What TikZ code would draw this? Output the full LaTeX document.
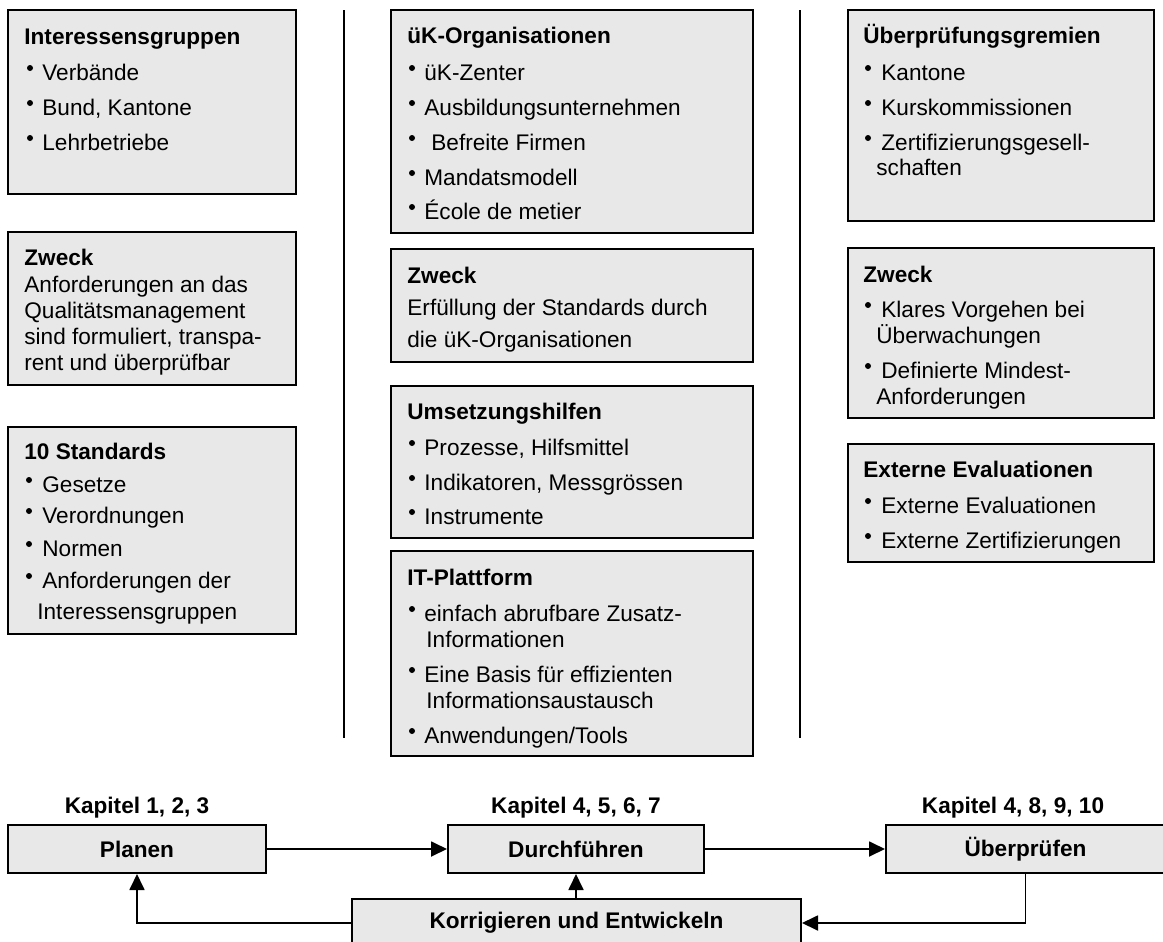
\documentclass[tikz,border=0pt]{standalone}
\usepackage{fontspec}
\setmainfont{Liberation Sans}
\usetikzlibrary{arrows.meta,fit,calc}
\definecolor{boxfill}{HTML}{E8E8E8}
\newcounter{tn}
\newcommand\HD[3]{\stepcounter{tn}\node[hdtext] (t\arabic{tn}) at (#1,#2) {#3};}
\newcommand\TX[3]{\stepcounter{tn}\node[bodytext] (t\arabic{tn}) at (#1,#2) {#3};}
\newcommand\BU[4]{\stepcounter{tn}\node[bdot] (d\arabic{tn}) at (#1,#3-12) {};\node[bodytext] (t\arabic{tn}) at (#2,#3) {#4};}
\newcommand\BX[5]{\node[panel, fit={(#2,#3) (#4,#5)}] (#1) {};}
\tikzset{
  panel/.style={draw, line width=1pt, fill=boxfill, inner sep=0pt, rectangle},
  hdtext/.style={anchor=base west, inner sep=0pt, font=\fontsize{11.3}{13}\selectfont\bfseries},
  bodytext/.style={anchor=base west, inner sep=0pt, font=\fontsize{11.3}{13}\selectfont},
  lbl/.style={anchor=base, inner sep=0pt, font=\fontsize{11.3}{13}\selectfont\bfseries},
  bdot/.style={circle, fill=black, inner sep=0pt, minimum size=3pt},
  flow/.style={draw, line width=1pt, fill=boxfill, inner sep=0pt, rectangle, font=\fontsize{11.3}{13}\selectfont\bfseries},
  arr/.style={line width=0.9pt, -{Triangle[length=8pt,width=7.5pt]}},
  sep/.style={line width=1.1pt}
}
\begin{document}
\begin{tikzpicture}[x=0.5pt,y=-0.5pt]
\useasboundingbox (0,0) rectangle (1163,942);
% separators
\coordinate (s1a) at (344,10); \coordinate (s1b) at (344,738);
\coordinate (s2a) at (800,10); \coordinate (s2b) at (800,738);
\draw[sep] (s1a) -- (s1b);
\draw[sep] (s2a) -- (s2b);
% left column
\BX{l1}{8}{10}{296}{194}
\HD{24}{44}{Interessensgruppen}
\BU{30}{42}{80}{Verbände}
\BU{30}{42}{115}{Bund, Kantone}
\BU{30}{42}{150}{Lehrbetriebe}
\BX{l2}{8}{232}{296}{385}
\HD{24}{265}{Zweck}
\TX{24}{292}{Anforderungen an das}
\TX{24}{318}{Qualitätsmanagement}
\TX{24}{344}{sind formuliert, transpa-}
\TX{24}{370}{rent und überprüfbar}
\BX{l3}{8}{427}{296}{634}
\HD{24}{459}{10 Standards}
\BU{29}{42}{492}{Gesetze}
\BU{29}{42}{523}{Verordnungen}
\BU{29}{42}{556}{Normen}
\BU{29}{42}{588}{Anforderungen der}
\TX{37}{619}{Interessensgruppen}
% middle column
\BX{m1}{391}{10}{753}{233}
\HD{407}{43}{üK-Organisationen}
\BU{412}{424}{80}{üK-Zenter}
\BU{412}{424}{115}{Ausbildungsunternehmen}
\BU{412}{431}{150}{Befreite Firmen}
\BU{412}{424}{185}{Mandatsmodell}
\BU{412}{424}{219}{École de metier}
\BX{m2}{391}{249}{753}{362}
\HD{407}{283}{Zweck}
\TX{407}{315}{Erfüllung der Standards durch}
\TX{407}{347}{die üK-Organisationen}
\BX{m3}{391}{386}{753}{538}
\HD{407}{419}{Umsetzungshilfen}
\BU{412}{424}{455}{Prozesse, Hilfsmittel}
\BU{412}{424}{490}{Indikatoren, Messgrössen}
\BU{412}{424}{524}{Instrumente}
\BX{m4}{391}{551}{753}{756}
\HD{407}{585}{IT-Plattform}
\BU{412}{424}{621}{einfach abrufbare Zusatz-}
\TX{426}{647}{Informationen}
\BU{412}{424}{682}{Eine Basis für effizienten}
\TX{426}{708}{Informationsaustausch}
\BU{412}{424}{743}{Anwendungen/Tools}
% right column
\BX{r1}{848}{10}{1154}{221}
\HD{863}{43}{Überprüfungsgremien}
\BU{868}{881}{80}{Kantone}
\BU{868}{881}{115}{Kurskommissionen}
\BU{868}{881}{150}{Zertifizierungsgesell-}
\TX{876}{175}{schaften}
\BX{r2}{848}{248}{1154}{418}
\HD{863}{282}{Zweck}
\BU{868}{881}{317}{Klares Vorgehen bei}
\TX{876}{343}{Überwachungen}
\BU{868}{881}{378}{Definierte Mindest-}
\TX{876}{404}{Anforderungen}
\BX{r3}{848}{444}{1154}{562}
\HD{863}{477}{Externe Evaluationen}
\BU{868}{881}{513}{Externe Evaluationen}
\BU{868}{881}{548}{Externe Zertifizierungen}
% bottom cycle
\node[lbl] (k1) at (137,813) {Kapitel 1, 2, 3};
\node[lbl] (k2) at (576,813) {Kapitel 4, 5, 6, 7};
\node[lbl] (k3) at (1013,813) {Kapitel 4, 8, 9, 10};
\node[flow, minimum width=129pt, minimum height=24pt] (plan) at (137,849) {Planen};
\node[flow, minimum width=128pt, minimum height=24pt] (durch) at (576,849) {Durchführen};
\node[flow, minimum width=139.5pt, minimum height=24pt] (ueber) at (1025.5,849) {Überprüfen};
\node[flow, minimum width=224.5pt, minimum height=24pt] (korr) at (576.5,923) {Korrigieren und Entwickeln};
\draw[arr] (plan.east) -- (durch.west);
\draw[arr] (durch.east) -- (ueber.west);
\draw[arr] (ueber.south) |- (korr.east);
\draw[arr] (korr.west) -| (plan.south);
\draw[arr] (korr.north -| durch.south) -- (durch.south);
\end{tikzpicture}
\end{document}
